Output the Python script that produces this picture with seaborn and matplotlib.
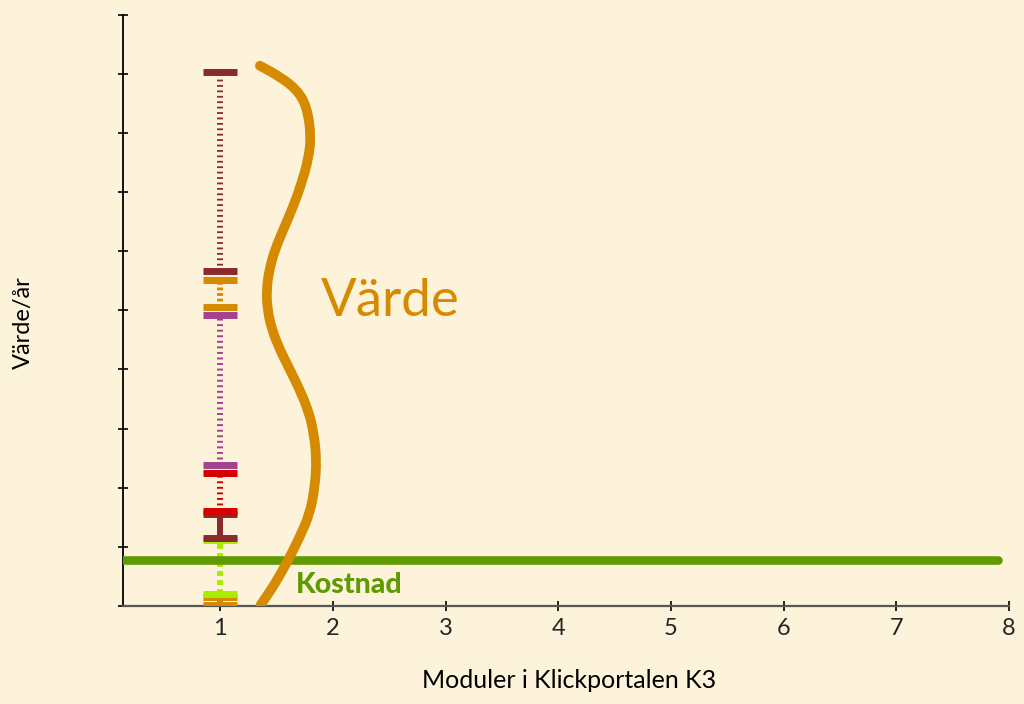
import matplotlib
matplotlib.use("Agg")
import matplotlib.pyplot as plt
from matplotlib.path import Path
from matplotlib.patches import PathPatch
import seaborn as sns
import numpy as np
import pandas as pd

# ---- data ----
x_ticks = [1, 2, 3, 4, 5, 6, 7, 8]
y_ticks = [0, 1, 2, 3, 4, 5, 6, 7, 8, 9, 10]

# stacked value segments at 1 module (bottom to top): low, high
seg_low = [0.02, 0.20, 1.15, 1.60, 2.38, 5.05, 5.67]
seg_high = [0.16, 1.12, 1.56, 2.25, 4.92, 5.52, 9.03]
seg_colors = ["#D68A00", "#A8EC00", "#8A2B2B", "#D50000", "#A3428F", "#D68A00", "#8A2B2B"]
seg_styles = ["solid", (0, (3.5, 3.0)), "solid", (0, (1.4, 2.6)), (0, (1.4, 2.6)), (0, (2.0, 2.0)), (0, (1.3, 2.6))]
seg_x = 1

# cost line
cost_x = [0.13, 7.90]
cost_y = [0.77, 0.77]

# value brace curve (control points)
brace_x = [1.352, 1.530, 1.681, 1.769, 1.807, 1.781, 1.722, 1.648, 1.559, 1.485, 1.435,
           1.410, 1.419, 1.459, 1.530, 1.589, 1.692, 1.781, 1.831, 1.855, 1.840, 1.796,
           1.707, 1.589, 1.470, 1.358]
brace_y = [9.137, 8.951, 8.731, 8.443, 7.941, 7.547, 7.152, 6.756, 6.362, 6.024, 5.685,
           5.347, 5.008, 4.670, 4.332, 4.107, 3.711, 3.316, 2.922, 2.470, 2.019, 1.569,
           1.173, 0.722, 0.327, 0.017]

BG = "#FCF3DA"
FONT = ["Lato", "DejaVu Sans"]

sns.set_theme(style="white")
plt.rcParams["font.family"] = FONT
plt.rcParams["lines.scale_dashes"] = False

fig = plt.figure(figsize=(10.24, 7.04), dpi=100, facecolor=BG)
ax = fig.add_axes([123 / 1024, 1 - 606 / 704, 886 / 1024, (606 - 14.7) / 704])
ax.set_facecolor(BG)

# segments
for lo, hi, col, ls in zip(seg_low, seg_high, seg_colors, seg_styles):
    ax.vlines(seg_x, lo, hi, colors=col, linestyles=[ls], linewidth=4.3, zorder=3)
    ax.hlines([lo, hi], seg_x - 0.15, seg_x + 0.15, colors=col, linewidth=5.0, zorder=4)

# cost line
df_cost = pd.DataFrame({"x": cost_x, "y": cost_y})
sns.lineplot(data=df_cost, x="x", y="y", ax=ax, color="#5F9B00", linewidth=6.2,
             solid_capstyle="round", zorder=5)

# brace: smooth quadratic path through the control points
pts = np.column_stack([brace_x, brace_y])
verts = [pts[0], (pts[0] + pts[1]) / 2]
codes = [Path.MOVETO, Path.LINETO]
for i in range(1, len(pts) - 1):
    verts += [pts[i], (pts[i] + pts[i + 1]) / 2]
    codes += [Path.CURVE3, Path.CURVE3]
verts.append(pts[-1])
codes.append(Path.LINETO)
brace = PathPatch(Path(verts, codes), facecolor="none", edgecolor="#D68A00",
                  linewidth=7, capstyle="round", joinstyle="round", zorder=6)
ax.add_patch(brace)

ax.text(1.894, 4.907, "Värde", color="#D68A00", fontsize=38, ha="left", va="baseline",
        family=FONT)
ax.text(1.672, 0.215, "Kostnad", color="#5F9B00", fontsize=20.5, fontweight="black",
        ha="left", va="baseline", family=FONT)

ax.set_xlim(0.137, 8)
ax.set_ylim(0, 10)
ax.set_xticks(x_ticks)
ax.set_xticklabels([str(v) for v in x_ticks], fontsize=17)
ax.set_yticks(y_ticks)
ax.set_yticklabels([])
ax.tick_params(axis="x", bottom=True, direction="inout", length=7, width=1.2,
               color="black", pad=5)
ax.tick_params(axis="y", left=True, direction="inout", length=7, width=1.2, color="black")

for s in ["top", "right"]:
    ax.spines[s].set_visible(False)
ax.spines["left"].set_color("black")
ax.spines["left"].set_linewidth(1.3)
ax.spines["bottom"].set_color("#555555")
ax.spines["bottom"].set_linewidth(1.6)

ax.set_xlabel("Moduler i Klickportalen K3", fontsize=18, color="black")
ax.set_ylabel("Värde/år", fontsize=17, color="black")
ax.xaxis.set_label_coords(0.503, -0.107)
ax.yaxis.set_label_coords(-0.100, 0.48)

fig.savefig("out.png", dpi=100, facecolor=BG)
